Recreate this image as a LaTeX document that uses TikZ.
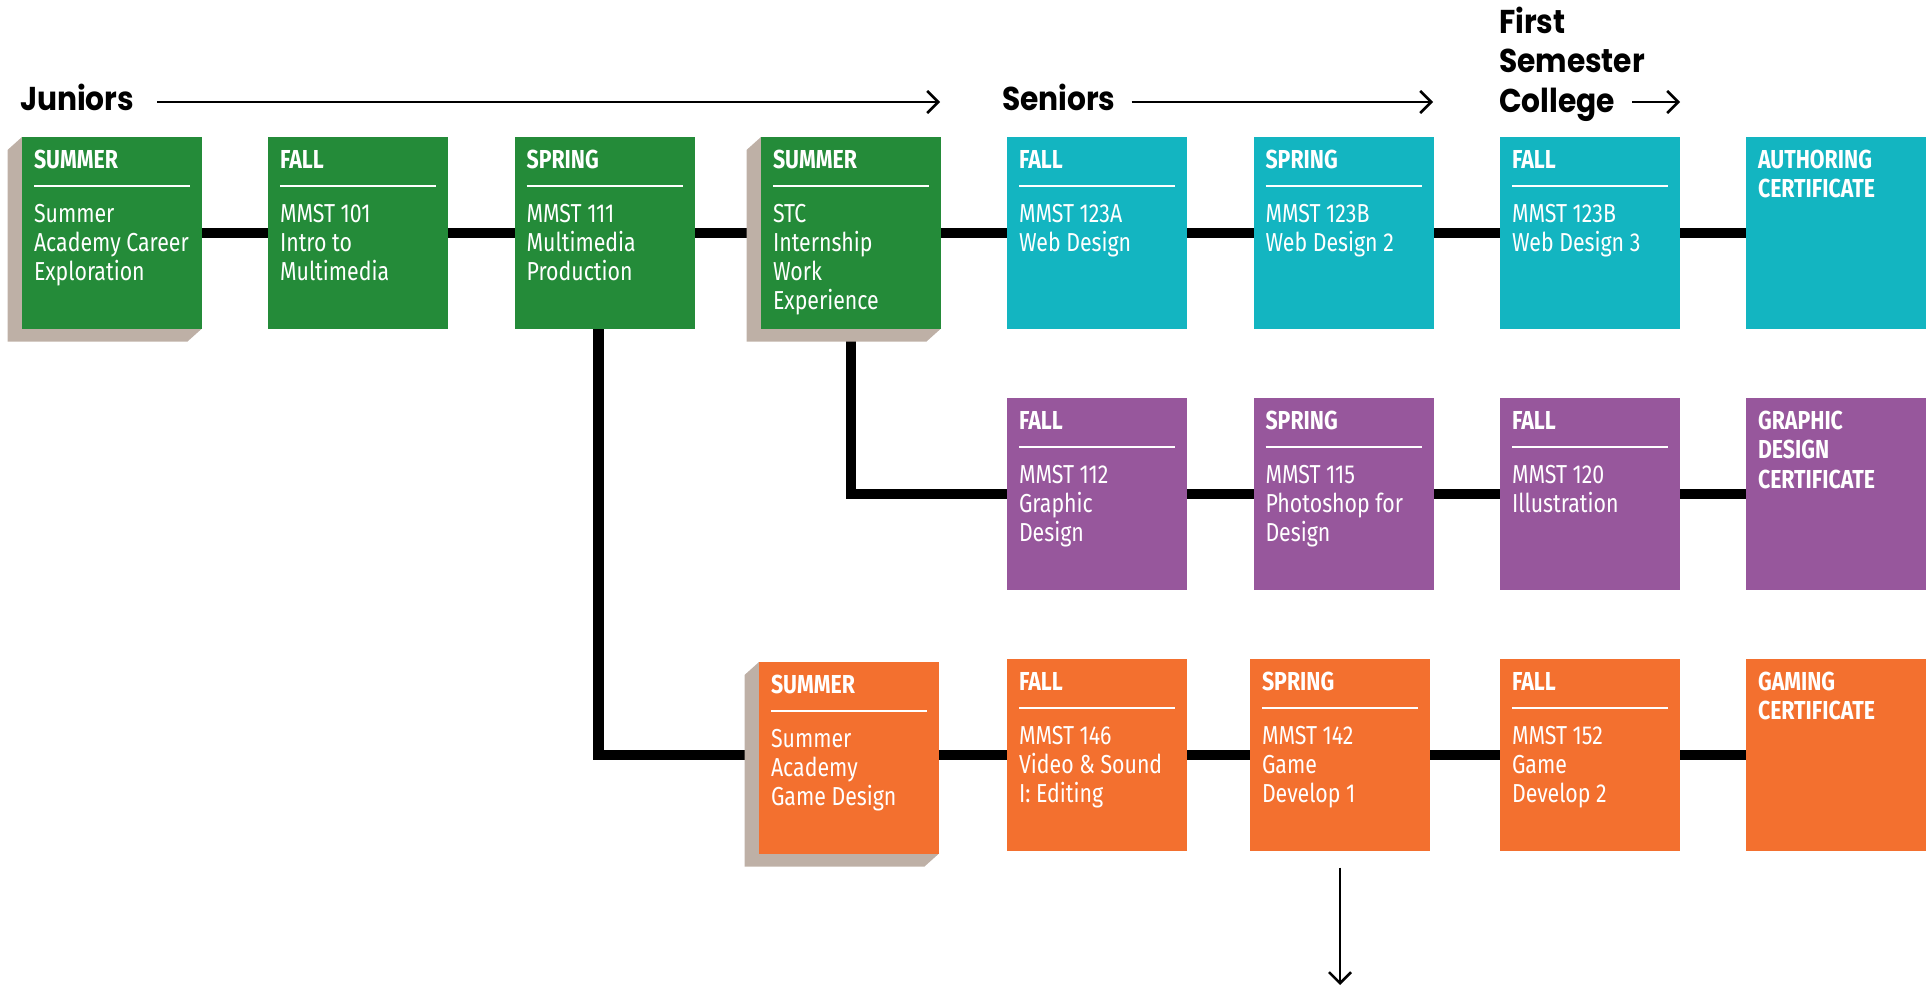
\documentclass[tikz,border=0pt]{standalone}
\usepackage{fontspec}
\setmainfont{Fira Sans}[FakeStretch=0.82]
\newfontfamily\headfont{Poppins}[FakeStretch=0.9]
\usetikzlibrary{arrows.meta,backgrounds}
\definecolor{cgreen}{HTML}{248B39}
\definecolor{cteal}{HTML}{13B5C1}
\definecolor{cpurple}{HTML}{97579C}
\definecolor{corange}{HTML}{F3702F}
\definecolor{cshadow}{HTML}{BEB0A6}
\tikzset{
 box/.style={draw=none, minimum width=180pt, minimum height=191.5pt, inner sep=0pt, outer sep=0pt},
 hdr/.style={inner sep=0pt, outer sep=0pt, text=white, font=\fontsize{26}{29.5}\selectfont\bfseries},
 bdy/.style={inner sep=0pt, outer sep=0pt, text=white, font=\fontsize{26}{29}\selectfont},
 rulel/.style={white, line width=2.5pt},
 conn/.style={black, line width=10.5pt},
 tarrow/.style={black, line width=2.6pt, -{Straight Barb[length=11pt,width=22pt]}},
 title/.style={inner sep=0pt, outer sep=0pt, font=\headfont\bfseries\fontsize{33}{39.5}\selectfont},
}
\newcommand\cbox[6]{%
 \node[box, fill=#4] (#1) at (#2+90, #3+95.75) {};
 \node[hdr, anchor=base west] (#1h) at ([shift={(12,31)}]#1.north west) {#5};
 \draw[rulel] ([shift={(12,49)}]#1.north west) -- ([shift={(168,49)}]#1.north west);
 \node[bdy, anchor=base west] (#1b) at ([shift={(12,85)}]#1.north west) {\parbox[t]{168pt}{\raggedright #6}};
}
\newcommand\shbox[6]{%
 \fill[cshadow] (#2,#3) -- (#2-14.5,#3+13) -- (#2-14.5,#3+204.5) -- (#2+165.5,#3+204.5) -- (#2+180,#3+191.5) -- cycle;
 \cbox{#1}{#2}{#3}{#4}{#5}{#6}%
}
\newcommand\certbox[5]{%
 \node[box, fill=#4] (#1) at (#2+90, #3+95.75) {};
 \node[hdr, anchor=base west] (#1h) at ([shift={(12,31)}]#1.north west) {\parbox[t]{168pt}{\raggedright #5}};
}
\begin{document}
\begin{tikzpicture}[x=1pt,y=-1pt]
\useasboundingbox (0,0) rectangle (1929,986);

% titles
\node[title, anchor=base west] (jun) at (20,110) {Juniors};
\node[title, anchor=base west] (sen) at (1002,110) {Seniors};
\node[title, anchor=base west] (fsc) at (1499,33) {\parbox[t]{200pt}{\raggedright First\\Semester\\College}};
\coordinate (jend) at (940,102);
\coordinate (send) at (1433,102);
\coordinate (cstart) at (1632,102);
\coordinate (cend) at (1680,102);
\coordinate (dend) at (1340,985);
\draw[tarrow, shorten <=23pt] (jun.east |- jend) -- (jend);
\draw[tarrow, shorten <=16pt] (sen.east |- send) -- (send);
\draw[tarrow] (cstart) -- (cend);

% row 1
\shbox{b1}{22}{137}{cgreen}{SUMMER}{Summer\\Academy Career\\Exploration}
\cbox{b2}{268}{137}{cgreen}{FALL}{MMST 101\\Intro to\\Multimedia}
\cbox{b3}{514.6}{137}{cgreen}{SPRING}{MMST 111\\Multimedia\\Production}
\shbox{b4}{761}{137}{cgreen}{SUMMER}{STC\\Internship\\Work\\Experience}
\cbox{b5}{1007}{137}{cteal}{FALL}{MMST 123A\\Web Design}
\cbox{b6}{1253.5}{137}{cteal}{SPRING}{MMST 123B\\Web Design 2}
\cbox{b7}{1500}{137}{cteal}{FALL}{MMST 123B\\Web Design 3}
\certbox{b8}{1746}{137}{cteal}{AUTHORING\\CERTIFICATE}

% row 2
\cbox{p5}{1007}{398}{cpurple}{FALL}{MMST 112\\Graphic\\Design}
\cbox{p6}{1253.5}{398}{cpurple}{SPRING}{MMST 115\\Photoshop for\\Design}
\cbox{p7}{1500}{398}{cpurple}{FALL}{MMST 120\\Illustration}
\certbox{p8}{1746}{398}{cpurple}{GRAPHIC\\DESIGN\\CERTIFICATE}

% row 3
\shbox{o4}{759}{662}{corange}{SUMMER}{Summer\\Academy\\Game Design}
\cbox{o5}{1007}{659}{corange}{FALL}{MMST 146\\Video \& Sound\\I: Editing}
\cbox{o6}{1250}{659}{corange}{SPRING}{MMST 142\\Game\\Develop 1}
\cbox{o7}{1500}{659}{corange}{FALL}{MMST 152\\Game\\Develop 2}
\certbox{o8}{1746}{659}{corange}{GAMING\\CERTIFICATE}

\draw[tarrow] ([yshift=-17pt]o6.south) -- (dend);

% connectors
\begin{scope}[on background layer]
\draw[conn] (b1.east) -- (b2.west);
\draw[conn] (b2.east) -- (b3.west);
\draw[conn] (b3.east) -- (b4.west);
\draw[conn] (b4.east) -- (b5.west);
\draw[conn] (b5.east) -- (b6.west);
\draw[conn] (b6.east) -- (b7.west);
\draw[conn] (b7.east) -- (b8.west);
\draw[conn] (b4.south) |- (p5.west);
\draw[conn] (p5.east) -- (p6.west);
\draw[conn] (p6.east) -- (p7.west);
\draw[conn] (p7.east) -- (p8.west);
\draw[conn] ([xshift=-6pt]b3.south) |- (o4.west |- o5.west);
\draw[conn] (o4.east |- o5.west) -- (o5.west);
\draw[conn] (o5.east) -- (o6.west);
\draw[conn] (o6.east) -- (o7.west);
\draw[conn] (o7.east) -- (o8.west);
\end{scope}
\end{tikzpicture}
\end{document}
